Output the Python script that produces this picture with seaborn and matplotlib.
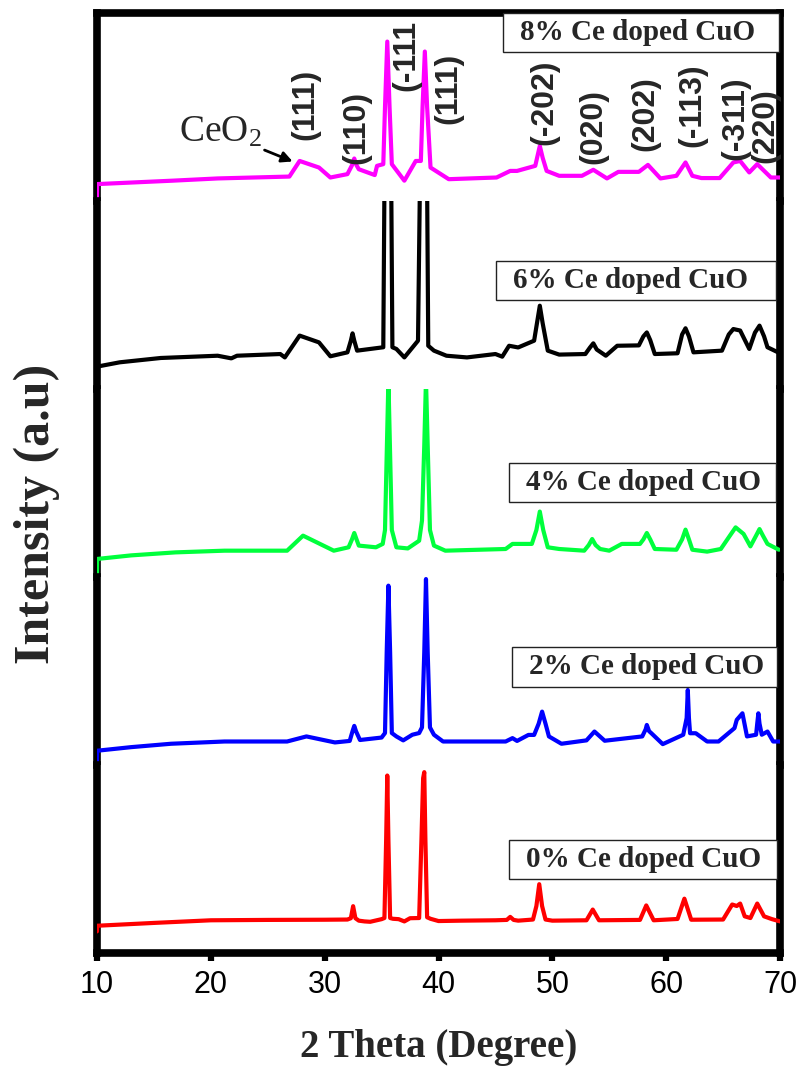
import matplotlib
matplotlib.use("Agg")
import matplotlib.pyplot as plt
import matplotlib.patches as mpatches
import matplotlib.transforms as mtransforms
import seaborn as sns

# ---------------- data ----------------
samples = ["8% Ce doped CuO", "6% Ce doped CuO", "4% Ce doped CuO",
           "2% Ce doped CuO", "0% Ce doped CuO"]
colors = ["#FF00FF", "#000000", "#00FF3C", "#0000FF", "#FF0000"]

two_theta_8 = [10, 10.02, 16.6, 20.6, 26.9, 27.8, 29.5, 30.5, 32.0, 32.4, 32.6, 32.8, 33.0,
               34.4, 34.6, 35.15, 35.3, 35.5, 35.7, 35.9, 37.0, 38.0, 38.45, 38.6, 38.8, 39.0,
               39.3, 40.9, 45.1, 46.3, 46.9, 48.5, 48.7, 48.9, 49.15, 49.5, 50.6, 52.6, 53.6,
               54.8, 55.8, 57.6, 58.4, 59.5, 60.9, 61.7, 62.3, 63.1, 64.7, 65.9, 66.5, 67.3,
               68.0, 69.2, 70]
intensity_8 = [19, 90, 108, 120, 130, 213, 178, 125, 143, 190, 226, 190, 169,
               138, 187, 196, 500, 848, 500, 196, 108, 213, 213, 500, 795, 500,
               178, 116, 125, 160, 160, 187, 240, 293, 230, 160, 134, 134, 166,
               120, 155, 155, 192, 120, 134, 205, 134, 122, 122, 205, 213, 152,
               196, 125, 125]

two_theta_6 = [10, 12, 15.6, 20.6, 21.8, 22.3, 26.1, 26.5, 27.8, 29.5, 30.5, 32.0, 32.3,
               32.45, 32.6, 32.85, 35.15, 35.3, 35.55, 35.8, 35.95, 36.3, 37.0, 38.2, 38.45,
               38.7, 38.95, 39.1, 39.6, 40.7, 42.5, 45.0, 45.6, 46.2, 47.0, 48.4, 48.65,
               48.9, 49.15, 49.6, 50.6, 52.9, 53.3, 53.6, 53.9, 54.7, 55.7, 57.6, 58.0,
               58.3, 58.6, 59.0, 61.0, 61.4, 61.7, 62.0, 62.4, 64.9, 65.5, 65.9, 66.5,
               67.3, 67.8, 68.2, 68.6, 68.9, 70]
intensity_6 = [119, 142, 165, 177, 163, 177, 186, 168, 284, 248, 174, 195, 257,
               296, 257, 204, 222, 1500, 7000, 1500, 222, 213, 168, 257, 1500,
               7000, 1500, 230, 204, 177, 168, 186, 172, 230, 221, 257, 350,
               443, 350, 204, 183, 186, 220, 243, 210, 177, 230, 232, 280,
               301, 260, 186, 190, 290, 323, 280, 195, 204, 290, 319, 311,
               213, 300, 337, 280, 222, 190]

two_theta_4 = [10, 10.02, 13, 16.9, 21.2, 26.7, 28.1, 30.8, 32.1, 32.4, 32.6, 32.8, 33.0,
               34.5, 35.1, 35.3, 35.45, 35.6, 35.75, 35.9, 36.3, 37.3, 38.3, 38.55, 38.75,
               38.9, 39.05, 39.25, 39.6, 40.6, 45.9, 46.5, 48.2, 48.6, 48.9, 49.2, 49.6,
               50.6, 52.8, 53.2, 53.5, 53.8, 54.2, 55.0, 56.1, 57.7, 58.0, 58.3, 58.6,
               59.0, 60.9, 61.4, 61.7, 62.0, 62.3, 63.6, 64.8, 65.6, 66.1, 66.8, 67.4,
               67.9, 68.2, 68.5, 68.9, 69.9]
intensity_4 = [7, 96, 115, 131, 140, 140, 220, 140, 158, 200, 234, 200, 167,
               158, 176, 250, 650, 1050, 650, 250, 158, 152, 193, 300, 700,
               1050, 700, 250, 167, 140, 149, 176, 176, 250, 348, 250, 158,
               149, 140, 170, 202, 170, 149, 140, 176, 176, 200, 234, 200,
               149, 145, 200, 252, 200, 145, 135, 149, 220, 264, 229, 163,
               220, 255, 220, 176, 145]

two_theta_2 = [10, 10.02, 13, 16.5, 21.2, 26.7, 28.4, 30.9, 32.2, 32.45, 32.6, 32.75, 33.1,
               35.0, 35.3, 35.45, 35.6, 35.75, 35.9, 36.3, 36.9, 37.7, 38.3, 38.55, 38.75,
               38.9, 39.05, 39.25, 39.6, 40.4, 45.9, 46.5, 46.9, 47.9, 48.4, 48.8, 49.1,
               49.4, 49.7, 50.8, 53.0, 53.7, 54.6, 57.9, 58.2, 58.3, 58.5, 58.7, 59.7,
               61.5, 61.8, 61.9, 62.0, 62.1, 62.6, 63.6, 64.6, 66.0, 66.2, 66.7, 67.1,
               67.9, 68.0, 68.1, 68.2, 68.4, 68.9, 69.4, 70]
intensity_2 = [20, 76, 95, 113, 125, 125, 152, 120, 128, 180, 208, 180, 133,
               146, 170, 600, 954, 600, 170, 152, 131, 161, 170, 200, 600,
               989, 600, 200, 161, 125, 125, 143, 128, 160, 160, 220, 284,
               220, 152, 113, 131, 178, 129, 152, 190, 213, 180, 169, 111,
               161, 250, 399, 250, 169, 169, 125, 125, 196, 240, 275, 152,
               161, 220, 275, 220, 161, 178, 125, 125]

two_theta_0 = [10, 10.02, 15, 20, 25, 30, 32.0, 32.3, 32.5, 32.7, 33.0, 33.5, 34.0, 35.0,
               35.25, 35.4, 35.5, 35.6, 35.75, 36.0, 36.5, 37.0, 37.5, 38.3, 38.5, 38.65,
               38.75, 38.85, 39.0, 39.3, 40.0, 42, 45, 46.0, 46.3, 46.6, 47, 48.3, 48.6,
               48.85, 49.1, 49.4, 50, 53.0, 53.55, 54.1, 57.7, 58.25, 58.9, 61.0, 61.6,
               62.2, 65, 65.8, 66.2, 66.5, 66.9, 67.4, 68.0, 68.6, 69.3, 70]
intensity_0 = [115, 145, 160, 174, 176, 177, 178, 185, 249, 185, 172, 168, 166, 180,
               186, 600, 944, 600, 186, 182, 180, 168, 185, 186, 600, 930,
               962, 600, 190, 182, 170, 172, 174, 176, 192, 176, 172, 178, 250,
               366, 250, 178, 172, 174, 231, 174, 176, 253, 174, 181, 289,
               177, 178, 258, 250, 263, 195, 186, 263, 195, 180, 168]

series_x = [two_theta_8, two_theta_6, two_theta_4, two_theta_2, two_theta_0]
series_y = [intensity_8, intensity_6, intensity_4, intensity_2, intensity_0]

# the (-111) label is cut by the frame in the reference: its visible part is shown
peak_labels = ["(111)", "(110)", "(-111", "(111)", "(-202)", "(020)",
               "(202)", "(-113)", "(-311)", "(220)"]
peak_x = [28.3, 32.8, 37.2, 40.85, 49.3, 53.6, 58.2, 62.3, 66.1, 68.75]
x_ticks = [10, 20, 30, 40, 50, 60, 70]

# ---------------- style ----------------
sns.set_style("white")
plt.rcParams["font.family"] = ["Liberation Serif", "DejaVu Serif"]
plt.rcParams["mathtext.fontset"] = "custom"
plt.rcParams["mathtext.rm"] = "Liberation Serif"
plt.rcParams["mathtext.it"] = "Liberation Serif:italic"
plt.rcParams["mathtext.bf"] = "Liberation Serif:bold"

W, H = 801, 1071
fig, axes = plt.subplots(5, 1, figsize=(W / 100, H / 100), dpi=100, sharex=True)
L, R, T, B = 97, 780, 13, 953
fig.subplots_adjust(left=L / W, right=R / W, top=1 - T / H, bottom=1 - B / H, hspace=0)

spine_lw = 5.5
for i, ax in enumerate(axes):
    sns.lineplot(x=series_x[i], y=series_y[i], ax=ax, color=colors[i], lw=3.0,
                 sort=False, estimator=None, legend=False, zorder=3)
    ax.set_xlim(10, 70)
    ax.set_ylim(0, 1000)
    ax.set_yticks([])
    ax.set_ylabel("")
    ax.set_facecolor("white")
    for s in ["left", "right", "top", "bottom"]:
        ax.spines[s].set_linewidth(spine_lw)
        ax.spines[s].set_color("black")
    if i != 0:
        ax.spines["top"].set_visible(False)
    if i != 4:
        ax.spines["bottom"].set_visible(False)
        ax.tick_params(axis="x", bottom=False, labelbottom=False)

axb = axes[-1]
axb.set_xticks(x_ticks)
axb.set_xticklabels([str(t) for t in x_ticks], fontfamily="Liberation Sans", fontsize=22)
axb.tick_params(axis="x", direction="out", length=5.5, width=4.5, pad=7, bottom=True,
                labelbottom=True, colors="black")
axb.set_xlabel("")

# ---------------- sample label boxes ----------------
panel_w = R - L
panel_h = (B - T) / 5
boxes = [(503, 779, 13, 52), (496, 776, 261, 300), (509, 776, 463, 502),
         (512, 777, 647, 687), (509, 777, 840, 879)]
for i, (ax, (x0, x1, y0, y1)) in enumerate(zip(axes, boxes)):
    pb = T + panel_h * (i + 1)
    fx0 = (x0 - L) / panel_w
    fx1 = (x1 - L) / panel_w
    fy0 = (pb - y1) / panel_h
    fy1 = (pb - y0) / panel_h
    rect = mpatches.Rectangle((fx0, fy0), fx1 - fx0, fy1 - fy0, transform=ax.transAxes,
                              facecolor="white", edgecolor="#222222", lw=1.0,
                              zorder=5, clip_on=False)
    ax.add_patch(rect)
    ax.text(fx0 + 17 / panel_w, (fy0 + fy1) / 2, samples[i], transform=ax.transAxes,
            ha="left", va="center", fontsize=21, fontweight="bold",
            fontfamily="Liberation Serif", zorder=6)

# ---------------- peak labels on the top panel ----------------
ax0 = axes[0]
blend = mtransforms.blended_transform_factory(ax0.transData, ax0.transAxes)
peak_y_px = [104, 127, 55, 88, 102, 127, 114, 105, 118, 126]
for lab, px, py in zip(peak_labels, peak_x, peak_y_px):
    ax0.text(px, (T + panel_h - py) / panel_h, lab, transform=blend, rotation=90,
             ha="center", va="center", fontsize=23, fontweight="bold",
             fontfamily="Liberation Sans", zorder=4)

ax0.annotate(r"CeO$_{\mathrm{2}}$", xy=(27.3, (T + panel_h - 162) / panel_h),
             xycoords=blend,
             xytext=(20.8, (T + panel_h - 132) / panel_h), textcoords=blend,
             ha="center", va="center", fontsize=27, fontfamily="Liberation Serif",
             arrowprops=dict(arrowstyle="-|>", color="black", lw=2.0,
                             shrinkA=24, shrinkB=1, mutation_scale=16))

# ---------------- axis titles ----------------
fig.text((L + R) / 2 / W, 1 - 1048 / H, "2 Theta (Degree)", ha="center", va="center",
         fontsize=28, fontweight="bold", fontfamily="Liberation Serif")
fig.text(37 / W, 1 - 514 / H, "Intensity (a.u)", ha="center", va="center", rotation=90,
         fontsize=36, fontweight="bold", fontfamily="Liberation Serif")

fig.savefig("out.png", dpi=100, facecolor="white")
